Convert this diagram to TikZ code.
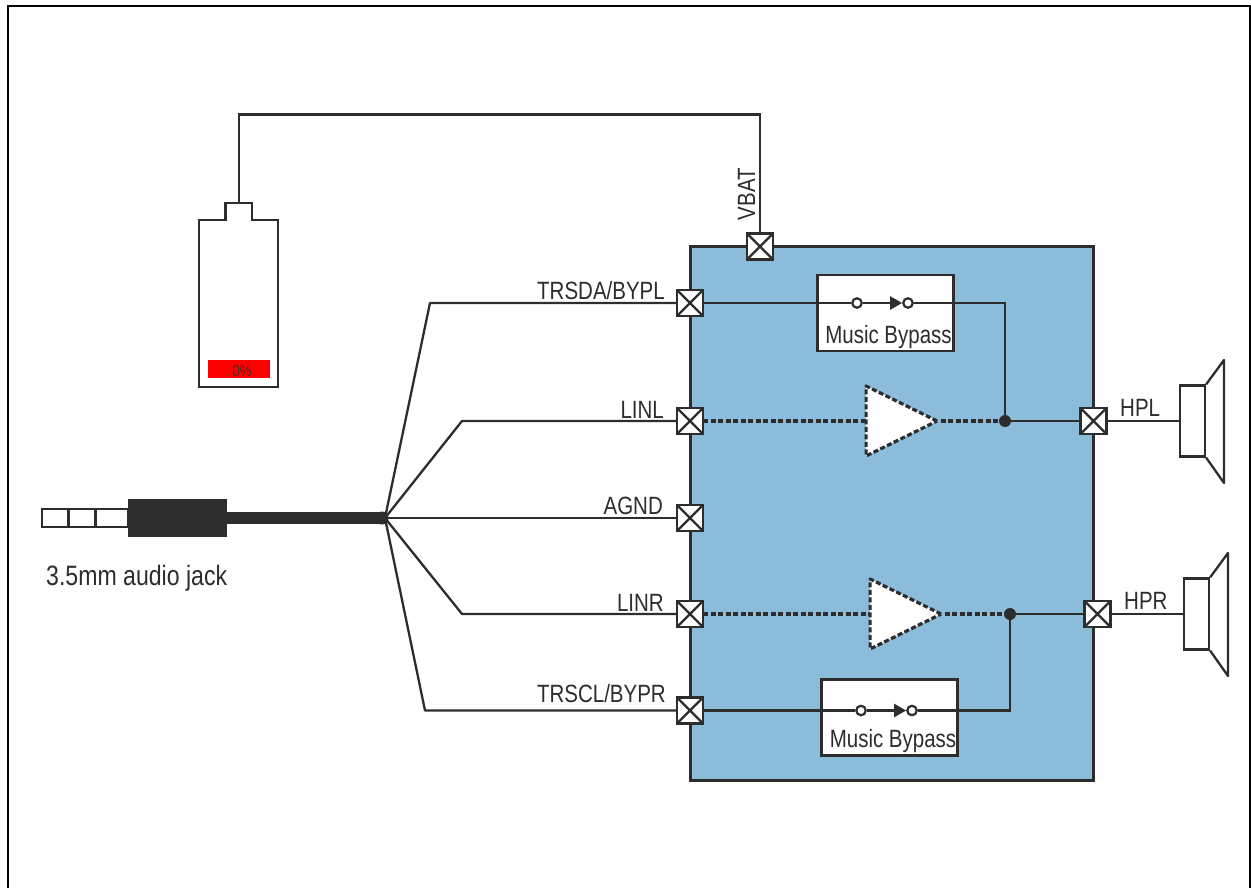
\documentclass[tikz,border=0pt]{standalone}
\usepackage{fontspec}
\setmainfont{Liberation Sans}
\newfontfamily\lblfont[FakeStretch=0.82]{Liberation Sans}
\newfontfamily\jackfont[FakeStretch=0.825]{Liberation Sans}
\usetikzlibrary{shapes.geometric,arrows.meta}
\definecolor{ink}{HTML}{2D2D2D}
\definecolor{chipblue}{HTML}{8BBDDB}
\tikzset{
  wire/.style={draw=ink,line width=2.3pt},
  dashwire/.style={draw=ink,line width=3.2pt,dash pattern=on 5pt off 2.5pt},
  pin/.style={draw=ink,fill=white,line width=2.8pt,rectangle,minimum size=26pt,inner sep=0pt,outer sep=0pt,
    path picture={\draw[ink,line width=2.2pt] (path picture bounding box.north west)--(path picture bounding box.south east)
      (path picture bounding box.north east)--(path picture bounding box.south west);}},
  lbl/.style={font=\lblfont\fontsize{25}{27}\selectfont,text=ink,inner sep=0pt},
  bypass/.style={draw=ink,fill=white,line width=2.3pt,rectangle,inner sep=0pt,minimum width=136pt,minimum height=76pt},
  sw/.style={circle,draw=ink,fill=white,line width=2.2pt,minimum size=9.5pt,inner sep=0pt},
  amp/.style={isosceles triangle,isosceles triangle apex angle=55,isosceles triangle stretches,draw=ink,fill=white,dashwire,line join=round,inner sep=0pt,minimum width=70pt,minimum height=71pt,anchor=lower side},
  dotn/.style={circle,fill=ink,minimum size=12pt,inner sep=0pt},
  spk/.style={draw=ink,fill=white,line width=2.3pt,rectangle,inner sep=0pt,minimum width=25pt,minimum height=71pt},
  cone/.style={draw=ink,line width=2.3pt,line join=round},
  arr/.style={wire,-{Triangle[length=12pt,width=13pt,fill=ink]}},
}
\begin{document}
\begin{tikzpicture}[x=1pt,y=-1pt]
\useasboundingbox (0,0) rectangle (1251,888);
\draw[black,line width=2pt] (8,888)--(8,6)--(1250,6)--(1250,888);

% chip
\node[draw=ink,fill=chipblue,line width=3pt,rectangle,inner sep=0pt,minimum width=403pt,minimum height=534pt] (chip) at (891.5,513) {};

% music bypass boxes
\node[bypass] (by1) at (885.5,313) {};
\node[bypass] (by2) at (889.5,717.5) {};
\node[lbl,anchor=base] (by1t) at (888.5,343) {Music Bypass};
\node[lbl,anchor=base] (by2t) at (893,747) {Music Bypass};
\node[sw] (s1a) at (857,303) {};
\node[sw] (s1b) at (908,303) {};
\node[sw] (s2a) at (861,710.5) {};
\node[sw] (s2b) at (912,710.5) {};

% pins
\node[pin] (vbat) at (760,246.5) {};
\node[pin] (trsda) at (690,303) {};
\node[pin] (linl) at (690,421) {};
\node[pin] (agnd) at (690,518) {};
\node[pin] (linr) at (690,614) {};
\node[pin] (trscl) at (690,710.5) {};
\node[pin] (hpl) at (1093.5,421) {};
\node[pin] (hpr) at (1097.5,614) {};

% junction dots
\node[dotn] (d1) at (1005,421) {};
\node[dotn] (d2) at (1010,614) {};

% amplifiers
\node[amp] (amp1) at (864.5,421) {};
\node[amp] (amp2) at (868.5,614) {};

% labels
\node[lbl,anchor=base east] (l1) at (665,299) {TRSDA/BYPL};
\node[lbl,anchor=base east] (l2) at (664,418) {LINL};
\node[lbl,anchor=base east] (l3) at (663,514) {AGND};
\node[lbl,anchor=base east] (l4) at (664,611) {LINR};
\node[lbl,anchor=base east] (l5) at (666,702) {TRSCL/BYPR};
\node[lbl,anchor=base west] (l6) at (1120,416.5) {HPL};
\node[lbl,anchor=base west] (l7) at (1124,609.5) {HPR};
\node[lbl,rotate=90,anchor=base] (l8) at (755,194) {VBAT};
\node[font=\jackfont\fontsize{28}{30}\selectfont,text=ink,inner sep=0pt,anchor=base west] (jacklbl) at (46,585) {3.5mm audio jack};

% speakers
\node[spk] (sp1) at (1192.5,421) {};
\node[spk] (sp2) at (1196.5,614) {};
\draw[cone] (sp1.north east)--(1224,360)--(1224,483)--(sp1.south east);
\draw[cone] (sp2.north east)--(1228,553)--(1228,676)--(sp2.south east);

% battery
\coordinate (batcap) at (239,203);
\draw[wire,line join=miter] (199,387)--(199,220)--(225.5,220)--(225.5,203)--(252,203)--(252,220)--(278,220)--(278,387)--cycle;
\node[fill=red,inner sep=0pt,minimum width=62pt,minimum height=18pt] (batlevel) at (239,369) {};
\node[font=\lblfont\fontsize{16}{17}\selectfont,text=ink!85!red,inner sep=0pt] (batpct) at (242,371) {0\%};

% jack
\node[draw=ink,fill=white,line width=2.3pt,rectangle,inner sep=0pt,minimum width=26.5pt,minimum height=18pt] (tip1) at (55.5,518) {};
\node[draw=ink,fill=white,line width=2.3pt,rectangle,inner sep=0pt,minimum width=27pt,minimum height=18pt] (tip2) at (82,518) {};
\node[draw=ink,fill=white,line width=2.3pt,rectangle,inner sep=0pt,minimum width=33pt,minimum height=18pt] (tip3) at (112,518) {};
\node[fill=ink,draw=ink,line width=1pt,rectangle,inner sep=0pt,minimum width=98pt,minimum height=37pt] (jackbody) at (177.5,517.5) {};
\node[circle,fill=ink,inner sep=0pt,minimum size=13pt] (hub) at (382,518) {};
\coordinate (fan) at (385,518);
\draw[ink,line width=12pt] (jackbody.east |- hub)--(hub.center);

% wires from the fan-out point
\draw[wire,line join=round] (fan)--(430,303)--(trsda.west);
\draw[wire,line join=round] (fan)--(462,421)--(linl.west);
\draw[wire] (fan)--(agnd.west);
\draw[wire,line join=round] (fan)--(462,614)--(linr.west);
\draw[wire,line join=round] (fan)--(425,710.5)--(trscl.west);

% battery wire
\draw[wire,line join=miter] (batcap)--(239,114.5)--(760,114.5)--(vbat.north);

% bypass signal paths
\draw[wire] (trsda.east)--(s1a.west);
\draw[arr] (s1a.east)--(s1b.west);
\draw[wire,line join=miter] (s1b.east)--(1005,303)--(d1.center);
\draw[wire] (trscl.east)--(s2a.west);
\draw[arr] (s2a.east)--(s2b.west);
\draw[wire,line join=miter] (s2b.east)--(1010,710.5)--(d2.center);

% amplifier signal paths
\draw[dashwire] (linl.east)--(amp1.lower side);
\draw[dashwire] (amp1.apex)--(d1.west);
\draw[dashwire] (linr.east)--(amp2.lower side);
\draw[dashwire] (amp2.apex)--(d2.west);

% outputs
\draw[wire] (d1.center)--(hpl.west);
\draw[wire] (d2.center)--(hpr.west);
\draw[wire] (hpl.east)--(sp1.west);
\draw[wire] (hpr.east)--(sp2.west);
\end{tikzpicture}
\end{document}
